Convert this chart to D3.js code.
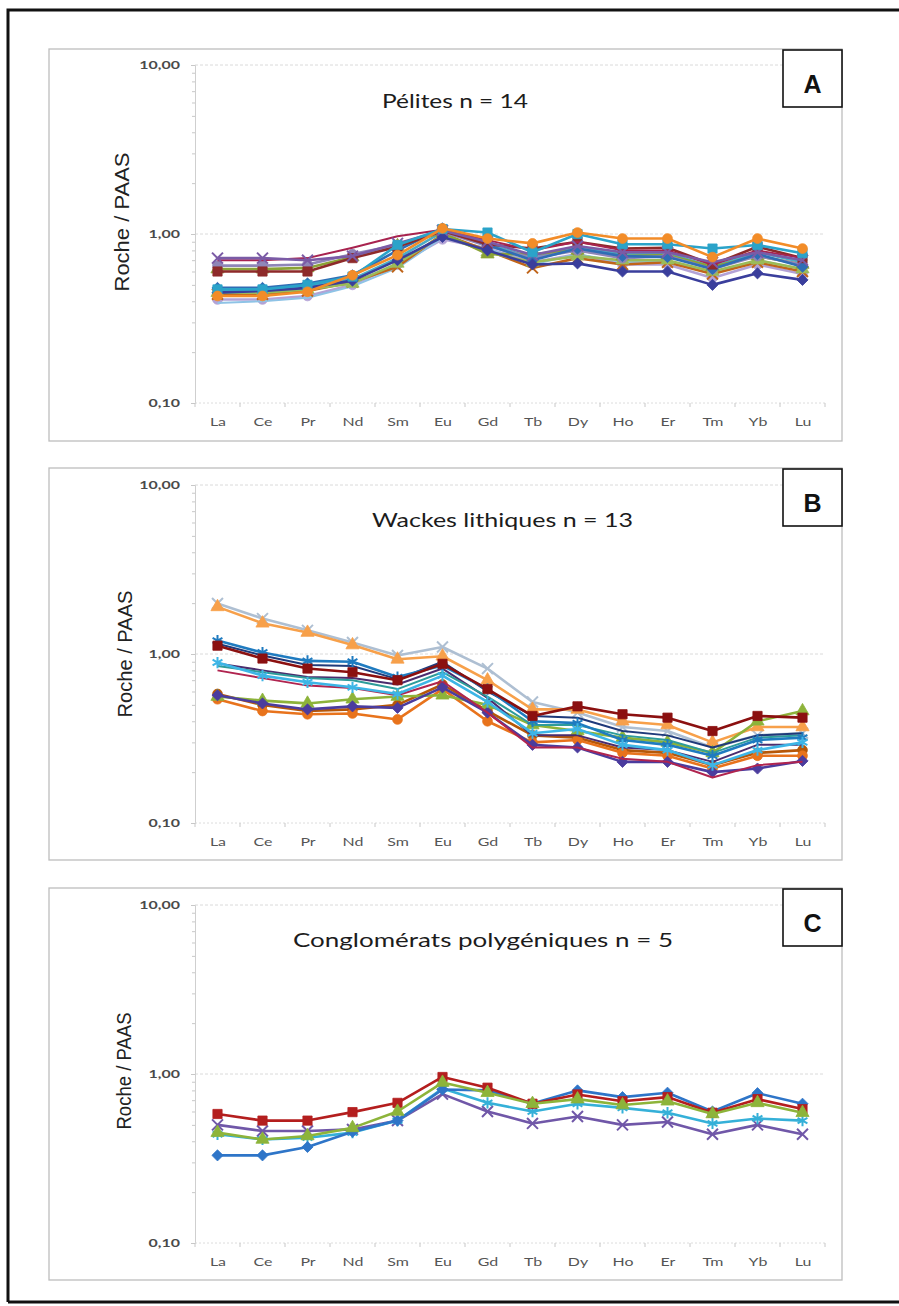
<!DOCTYPE html>
<html><head><meta charset="utf-8">
<script src="https://cdn.jsdelivr.net/npm/d3@7"></script>
<style>body{margin:0;background:#fff}svg{display:block}</style>
</head><body>
<svg id="c" width="899" height="1306"></svg>
<script>
// ---------- DATA ----------
const elements = ["La","Ce","Pr","Nd","Sm","Eu","Gd","Tb","Dy","Ho","Er","Tm","Yb","Lu"];
const yTickValues = [0.1, 1, 10];
const yTickLabels = ["0,10", "1,00", "10,00"];
const panelTitles = ["Pélites n = 14", "Wackes lithiques n = 13", "Conglomérats polygéniques n = 5"];
const panelLetters = ["A", "B", "C"];
const yTitle = "Roche / PAAS";

// Panel A : pélites (14 samples)
const pelitesValues = [
  [0.41,0.41,0.43,0.50,0.66,0.93,0.82,0.68,0.76,0.66,0.66,0.55,0.66,0.58],
  [0.39,0.40,0.42,0.49,0.63,0.95,0.82,0.66,0.76,0.68,0.69,0.58,0.70,0.62],
  [0.44,0.44,0.46,0.52,0.64,1.00,0.80,0.63,0.72,0.66,0.68,0.58,0.68,0.60],
  [0.45,0.45,0.47,0.51,0.67,0.98,0.78,0.68,0.74,0.70,0.70,0.60,0.70,0.62],
  [0.46,0.46,0.49,0.54,0.72,1.03,0.88,0.72,0.84,0.76,0.77,0.64,0.78,0.68],
  [0.62,0.62,0.63,0.73,0.85,1.02,0.76,0.76,0.80,0.74,0.75,0.64,0.74,0.66],
  [0.65,0.65,0.66,0.76,0.86,1.03,0.85,0.72,0.80,0.72,0.74,0.62,0.74,0.66],
  [0.48,0.48,0.51,0.57,0.80,1.08,0.86,0.70,0.82,0.74,0.73,0.62,0.76,0.64],
  [0.60,0.60,0.60,0.72,0.84,1.04,0.87,0.82,0.90,0.82,0.83,0.66,0.84,0.72],
  [0.70,0.70,0.72,0.83,0.97,1.06,0.92,0.80,0.90,0.80,0.80,0.66,0.80,0.72],
  [0.45,0.46,0.48,0.53,0.70,0.96,0.80,0.66,0.67,0.60,0.60,0.50,0.585,0.535],
  [0.72,0.72,0.70,0.74,0.88,1.05,0.90,0.75,0.85,0.78,0.78,0.68,0.78,0.70],
  [0.47,0.47,0.50,0.56,0.86,1.07,1.02,0.78,1.00,0.87,0.87,0.82,0.86,0.77],
  [0.43,0.43,0.455,0.57,0.75,1.08,0.94,0.88,1.02,0.94,0.94,0.73,0.94,0.82]
];
const pelitesColors = ["#b3a2d6","#8ec3e6","#c0651a","#9bbb59","#4bacc6","#8aa336","#8f86b8","#2f6db5","#8e2a2a","#a8234f","#3a3e9c","#7b5ba6","#2ba3c9","#f28c28"];
const pelitesMarkers = ["circle","none","x","triangle","star","triangle","circle","diamond","square","none","diamond","x","square","circle"];

// Panel B : wackes lithiques (13 samples)
const wackesValues = [
  [1.99,1.62,1.38,1.17,0.98,1.10,0.82,0.52,0.45,0.37,0.35,0.28,0.33,0.34],
  [1.90,1.52,1.34,1.13,0.93,0.97,0.70,0.47,0.47,0.40,0.38,0.30,0.37,0.37],
  [0.58,0.50,0.46,0.47,0.50,0.66,0.46,0.33,0.32,0.27,0.26,0.22,0.26,0.27],
  [0.54,0.46,0.44,0.445,0.41,0.62,0.40,0.30,0.31,0.26,0.25,0.21,0.25,0.25],
  [0.56,0.53,0.51,0.54,0.56,0.57,0.50,0.38,0.35,0.32,0.30,0.26,0.40,0.46],
  [0.57,0.51,0.47,0.49,0.48,0.635,0.45,0.29,0.28,0.23,0.23,0.20,0.21,0.233],
  [0.80,0.72,0.65,0.63,0.57,0.69,0.45,0.28,0.28,0.24,0.23,0.186,0.22,0.23],
  [0.88,0.80,0.73,0.72,0.66,0.82,0.55,0.33,0.33,0.28,0.27,0.23,0.29,0.29],
  [0.85,0.78,0.72,0.70,0.62,0.78,0.56,0.38,0.38,0.33,0.31,0.26,0.32,0.33],
  [1.15,0.98,0.86,0.85,0.71,0.90,0.60,0.43,0.42,0.35,0.33,0.28,0.33,0.34],
  [1.20,1.02,0.91,0.90,0.73,0.855,0.62,0.40,0.39,0.31,0.29,0.25,0.31,0.32],
  [1.12,0.94,0.82,0.78,0.70,0.875,0.62,0.43,0.49,0.44,0.42,0.35,0.43,0.42],
  [0.89,0.745,0.68,0.635,0.58,0.745,0.52,0.34,0.36,0.29,0.27,0.22,0.27,0.30]
];
const wackesColors = ["#aebfd2","#f7a04a","#b65708","#e8731c","#8db33a","#4b3c9e","#b0244f","#4b2c6e","#2e9c9a","#1f3a7a","#1f7bc0","#8b1010","#3db5e6"];
const wackesMarkers = ["x","triangle","circle","circle","triangle","diamond","none","none","none","none","star","square","star"];

// Panel C : conglomérats polygéniques (5 samples)
const conglomValues = [
  [0.50,0.46,0.46,0.47,0.53,0.76,0.60,0.51,0.56,0.50,0.52,0.44,0.50,0.44],
  [0.44,0.41,0.42,0.45,0.53,0.82,0.675,0.60,0.667,0.63,0.59,0.51,0.545,0.53],
  [0.33,0.33,0.37,0.455,0.53,0.81,0.80,0.67,0.80,0.73,0.775,0.60,0.77,0.667],
  [0.58,0.53,0.53,0.595,0.675,0.96,0.83,0.667,0.757,0.69,0.73,0.59,0.71,0.62],
  [0.45,0.41,0.43,0.48,0.60,0.89,0.775,0.667,0.71,0.655,0.69,0.58,0.675,0.59]
];
const conglomColors = ["#7057a8","#35b0d8","#2e75c8","#b41e1e","#8db43a"];
const conglomMarkers = ["x","star","diamond","square","triangle"];

// ---------- LAYOUT ----------
const panels = [
  {values: pelitesValues, colors: pelitesColors, markers: pelitesMarkers, top: 65, box: 49, titleX: 382, titleLen: 146, yTitleLen: 139, yTitleY: 222, yTitleX: 122},
  {values: wackesValues, colors: wackesColors, markers: wackesMarkers, top: 485, box: 468, titleX: 372, titleLen: 261, yTitleLen: 127, yTitleY: 654, yTitleX: 125},
  {values: conglomValues, colors: conglomColors, markers: conglomMarkers, top: 905, box: 888, titleX: 293, titleLen: 380, yTitleLen: 117, yTitleY: 1071, yTitleX: 124}
];
const plotH = 338, plotL = 195, plotR = 825;
const stretch = 1.45;

const svg = d3.select("#c");
svg.append("rect").attr("width", 899).attr("height", 1306).attr("fill", "#fff");

// outer frame (left, top, bottom)
svg.append("path").attr("d", "M8,1302V10H905M8,1302H905")
  .attr("fill", "none").attr("stroke", "#111").attr("stroke-width", 3);

function symbolFor(name) {
  switch (name) {
    case "diamond": return {t: d3.symbolSquare, s: 62, fill: true, rot: 45};
    case "square": return {t: d3.symbolSquare, s: 85, fill: true, rot: 0};
    case "triangle": return {t: d3.symbolTriangle, s: 75, fill: true, rot: 0};
    case "circle": return {t: d3.symbolCircle, s: 75, fill: true, rot: 0};
    case "x": return {t: d3.symbolX, s: 80, fill: false, rot: 0};
    case "star": return {t: d3.symbolAsterisk, s: 90, fill: false, rot: 0};
    default: return null;
  }
}

panels.forEach((p, pi) => {
  const g = svg.append("g");
  // panel border
  g.append("rect").attr("x", 49).attr("y", p.box).attr("width", 793).attr("height", 392)
    .attr("fill", "none").attr("stroke", "#bdbdbd").attr("stroke-width", 1.3);

  const x = d3.scaleBand().domain(elements).range([plotL, plotR]);
  const xp = d3.scalePoint().domain(elements).range([plotL + x.bandwidth()/2, plotR - x.bandwidth()/2]);
  const y = d3.scaleLog().domain([0.1, 10]).range([p.top + plotH, p.top]);

  // gridlines at 1 and 10
  g.selectAll(".grid").data([1, 10]).join("line")
    .attr("x1", plotL).attr("x2", plotR).attr("y1", d => y(d)).attr("y2", d => y(d))
    .attr("stroke", "#dadada").attr("stroke-width", 1).attr("stroke-dasharray", "3,2");

  // y axis (minor ticks)
  const minor = [];
  [0.1, 1].forEach(b => { for (let k = 2; k <= 9; k++) minor.push(b * k); });
  const yMinor = g.append("g").attr("transform", `translate(${plotL},0)`)
    .call(d3.axisLeft(y).tickValues(minor).tickSize(3).tickFormat(""));
  yMinor.select(".domain").remove();
  yMinor.selectAll("line").attr("stroke", "#c8c8c8");

  const yAx = g.append("g").attr("transform", `translate(${plotL},0)`)
    .call(d3.axisLeft(y).tickValues(yTickValues).tickSize(4).tickFormat((d, i) => yTickLabels[i]));
  yAx.select(".domain").attr("stroke", "#cfcfcf");
  yAx.selectAll("line").attr("stroke", "#c8c8c8");
  yAx.selectAll("text")
    .attr("x", 0).attr("dy", "0.35em")
    .attr("transform", `translate(-15,0) scale(${stretch},1)`)
    .attr("font-family", "Lato, 'Liberation Serif', serif").attr("font-size", 11).attr("font-weight", 700)
    .attr("fill", "#4a4a4a");

  // x axis
  const xb = g.append("g").attr("transform", `translate(0,${p.top + plotH})`);
  xb.append("line").attr("x1", plotL).attr("x2", plotR).attr("stroke", "#dcdcdc").attr("stroke-dasharray", "2,2");
  xb.selectAll(".bt").data(elements.concat(["end"])).join("line")
    .attr("x1", d => d === "end" ? plotR : x(d)).attr("x2", d => d === "end" ? plotR : x(d))
    .attr("y1", 0).attr("y2", 4).attr("stroke", "#c8c8c8");
  const xAx = g.append("g").attr("transform", `translate(0,${p.top + plotH})`)
    .call(d3.axisBottom(xp).tickSize(0).tickPadding(0));
  xAx.select(".domain").remove();
  xAx.selectAll("text")
    .attr("y", 0).attr("dy", "0")
    .attr("transform", `translate(0,23) scale(${stretch},1)`)
    .attr("font-family", "Lato, sans-serif").attr("font-size", 11)
    .attr("fill", "#555");

  // series
  const line = d3.line().x((d, i) => xp(elements[i])).y(d => y(d));
  p.values.forEach((vals, si) => {
    const col = p.colors[si];
    const sg = g.append("g");
    const thin = p.markers[si] === "none";
    sg.append("path").attr("d", line(vals)).attr("fill", "none")
      .attr("stroke", col).attr("stroke-width", thin ? 2 : 2.6).attr("stroke-linejoin", "round");
    const sym = symbolFor(p.markers[si]);
    if (sym) {
      sg.selectAll("path.m").data(vals).join("path").attr("class", "m")
        .attr("transform", (d, i) => `translate(${xp(elements[i])},${y(d)}) rotate(${sym.rot})`)
        .attr("d", d3.symbol().type(sym.t).size(sym.s)())
        .attr("fill", sym.fill ? col : "none")
        .attr("stroke", col).attr("stroke-width", sym.fill ? 0.8 : 2);
    }
  });

  // title
  g.append("text").attr("x", p.titleX).attr("y", p.box + 59)
    .attr("textLength", p.titleLen).attr("lengthAdjust", "spacingAndGlyphs")
    .attr("font-family", "Lato, 'Open Sans', sans-serif").attr("font-size", 19)
    .attr("fill", "#1c1c1c").text(panelTitles[pi]);

  // y title
  g.append("text").attr("transform", `translate(${p.yTitleX + 7},${p.yTitleY}) rotate(-90)`)
    .attr("text-anchor", "middle")
    .attr("textLength", p.yTitleLen).attr("lengthAdjust", "spacingAndGlyphs")
    .attr("font-family", "'Liberation Sans', Arial, sans-serif").attr("font-size", 20)
    .attr("fill", "#222").text(yTitle);

  // letter box
  g.append("rect").attr("x", 783).attr("y", p.box + 1).attr("width", 59).attr("height", 57)
    .attr("fill", "#fff").attr("stroke", "#111").attr("stroke-width", 1.6);
  g.append("text").attr("x", 812.5).attr("y", p.box + 44).attr("text-anchor", "middle")
    .attr("font-family", "'Liberation Sans', Arial, sans-serif").attr("font-weight", 700)
    .attr("font-size", 25).attr("fill", "#111").text(panelLetters[pi]);
});
</script>
</body></html>
